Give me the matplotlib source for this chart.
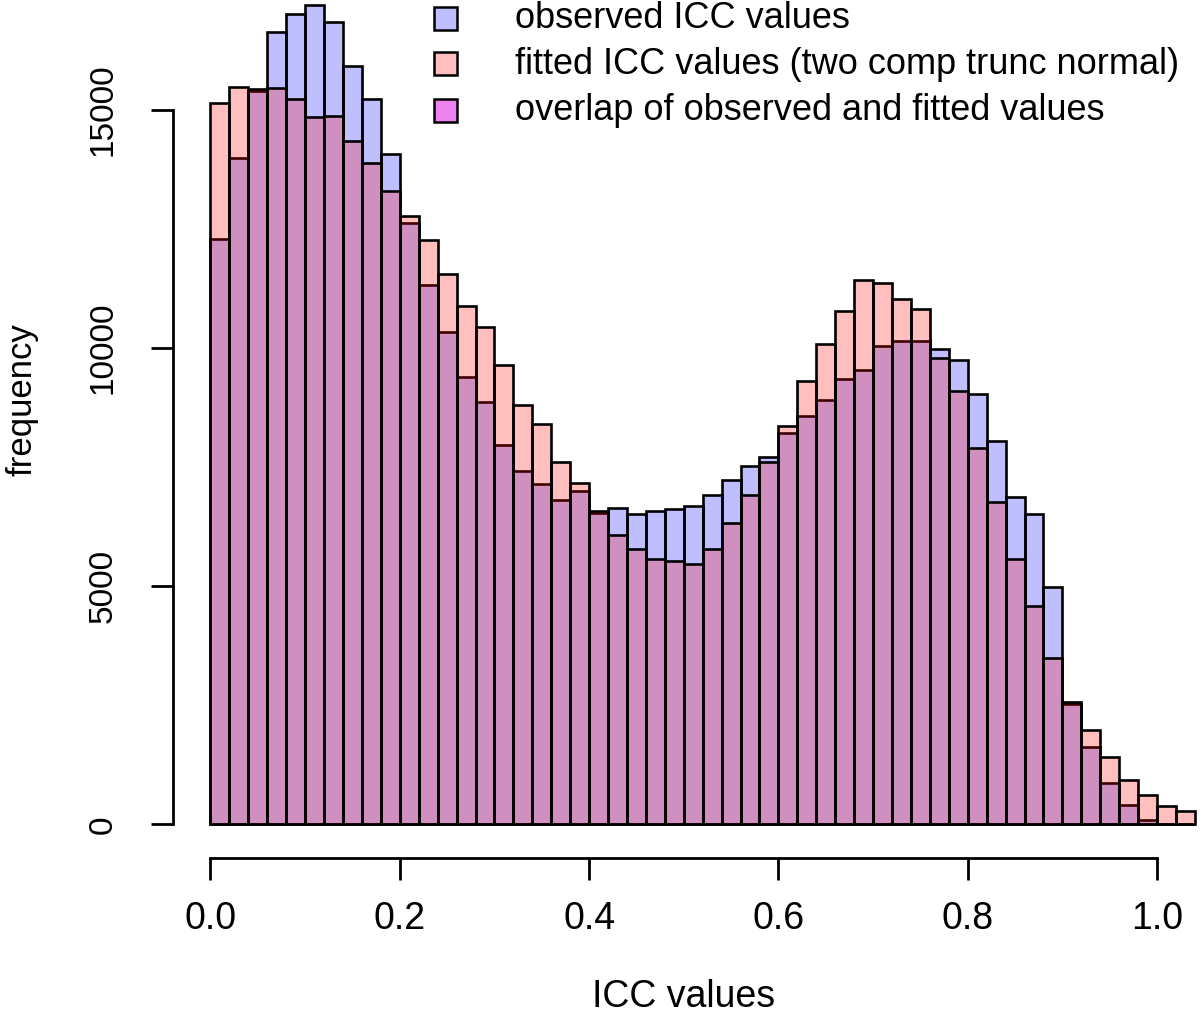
import matplotlib
matplotlib.use("Agg")
import matplotlib.pyplot as plt
from matplotlib.patches import Rectangle
import numpy as np

plt.rcParams['font.family'] = ['Liberation Sans', 'DejaVu Sans']

# histogram bins (width 0.02, from 0 to 1.04)
bin_edges = [round(0.02 * i, 2) for i in range(53)]

observed = [12300, 14000, 15400, 16630, 17010, 17210, 16850, 15920, 15230, 14080,
            12630, 11330, 10340, 9390, 8870, 7960, 7410, 7150, 6810, 6990,
            6530, 6640, 6525, 6575, 6630, 6680, 6920, 7220, 7520, 7710,
            8220, 8575, 8905, 9360, 9550, 10045, 10145, 10145, 9990, 9760,
            9045, 8050, 6875, 6510, 4985, 2520, 1625, 875, 400, 85,
            0, 0]
fitted = [15140, 15480, 15450, 15470, 15240, 14855, 14875, 14350, 13895, 13300,
          12770, 12265, 11565, 10880, 10445, 9655, 8800, 8400, 7615, 7170,
          6575, 6080, 5790, 5565, 5530, 5475, 5775, 6330, 6910, 7600,
          8365, 9305, 10095, 10780, 11425, 11370, 11025, 10815, 9800, 9095,
          7910, 6770, 5580, 4585, 3490, 2570, 1975, 1415, 940, 625,
          385, 275]

x_ticks = [0.0, 0.2, 0.4, 0.6, 0.8, 1.0]
x_ticklabels = ["0.0", "0.2", "0.4", "0.6", "0.8", "1.0"]
y_ticks = [0, 5000, 10000, 15000]
y_ticklabels = ["0", "5000", "10000", "15000"]
legend_labels = ["observed ICC values",
                 "fitted ICC values (two comp trunc normal)",
                 "overlap of observed and fitted values"]

W, H = 1200, 1015
fig = plt.figure(figsize=(W / 100, H / 100), dpi=100)
ax = fig.add_axes([150 / W, (H - 900) / H, 1050 / W, 900 / H])

blue = (0, 0, 1, 0.25)
red = (1, 0, 0, 0.25)
left = bin_edges[:-1]
ax.bar(left, observed, width=0.02, align='edge', color=blue,
       edgecolor='black', linewidth=1.9)
ax.bar(left, fitted, width=0.02, align='edge', color=red,
       edgecolor='black', linewidth=1.9)

ax.set_xlim(-0.0639, 1.0454)
ax.set_ylim(-1590, 17310)

for s in ['top', 'right']:
    ax.spines[s].set_visible(False)
ax.spines['left'].set_position(('data', -0.0393))
ax.spines['left'].set_bounds(0, 15000)
ax.spines['bottom'].set_position(('data', -701))
ax.spines['bottom'].set_bounds(0, 1.0)
for s in ['left', 'bottom']:
    ax.spines[s].set_linewidth(2)

ax.set_xticks(x_ticks)
ax.set_xticklabels(x_ticklabels, fontsize=27)
ax.set_yticks(y_ticks)
ax.set_yticklabels(y_ticklabels, fontsize=24, rotation=90, va='center')
ax.tick_params(axis='x', length=15.5, width=2, pad=16)
ax.tick_params(axis='y', length=15.5, width=2, pad=24)

fig.text(684 / W, 1 - 997 / H, "ICC values", fontsize=27, ha='center', va='center')
fig.text(22 / W, 1 - 400 / H, "frequency", fontsize=25, ha='center', va='center',
         rotation=90)

# legend
leg_colors = [blue, red, '#EE82EE']
row_y = [18, 64, 110]
for lab, col, yy in zip(legend_labels, leg_colors, row_y):
    sq = 23
    fig.add_artist(Rectangle((434 / W, 1 - (yy + sq / 2) / H), sq / W, sq / H,
                             transform=fig.transFigure, facecolor=col,
                             edgecolor='black', linewidth=1.8))
    fig.text(515 / W, 1 - yy / H, lab, fontsize=26, ha='left', va='center')

fig.savefig("out.png", dpi=100)
